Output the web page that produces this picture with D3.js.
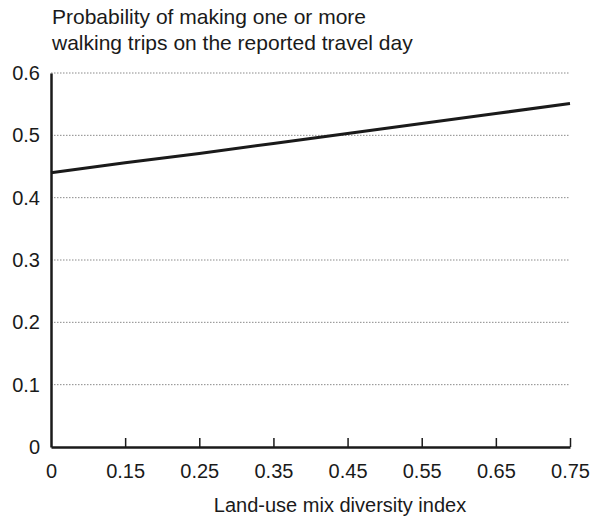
<!DOCTYPE html>
<html>
<head>
<meta charset="utf-8">
<script src="https://cdn.jsdelivr.net/npm/d3@7"></script>
<style>
  html, body { margin: 0; padding: 0; background: #fff; }
  svg { display: block; font-family: "Liberation Sans", Arial, Helvetica, sans-serif; }
</style>
</head>
<body>
<svg id="chart" width="590" height="518"></svg>
<script>
const categories = ["0", "0.15", "0.25", "0.35", "0.45", "0.55", "0.65", "0.75"];
const probability = [0.440, 0.456, 0.471, 0.487, 0.503, 0.519, 0.535, 0.551];
const yTicks = [0, 0.1, 0.2, 0.3, 0.4, 0.5, 0.6];
const titleLines = ["Probability of making one or more", "walking trips on the reported travel day"];
const xTitle = "Land-use mix diversity index";

(function () {
const svg = d3.select("#chart");
const mLeft = 51, mRight = 570, mTop = 73, mBottom = 447;

const x = d3.scalePoint().domain(categories).range([mLeft, mRight]);
const y = d3.scaleLinear().domain([0, 0.6]).range([mBottom, mTop]);

// gridlines
svg.append("g").selectAll("line").data(yTicks.filter(d => d > 0)).join("line")
  .attr("x1", mLeft).attr("x2", mRight)
  .attr("y1", d => y(d)).attr("y2", d => y(d))
  .attr("stroke", "#8a8a8a").attr("stroke-width", 1)
  .attr("stroke-dasharray", "1.5,1.5");

// y axis
const yAxis = svg.append("g").attr("transform", `translate(${mLeft},0)`)
  .call(d3.axisLeft(y).tickValues(yTicks).tickSize(0).tickPadding(11)
    .tickFormat(d => d === 0 ? "0" : d3.format(".1f")(d)));
yAxis.select(".domain").attr("stroke", "#1a1a1a").attr("stroke-width", 2.5);
yAxis.selectAll("text").attr("font-size", 20).attr("fill", "#1a1a1a")
  .attr("font-family", "'Liberation Sans', Arial, sans-serif");

// x axis
const xAxis = svg.append("g").attr("transform", `translate(0,${mBottom})`)
  .call(d3.axisBottom(x).tickSize(0).tickPadding(17));
xAxis.select(".domain").attr("stroke", "#1a1a1a").attr("stroke-width", 2.5);
xAxis.selectAll("text").attr("font-size", 20).attr("fill", "#1a1a1a")
  .attr("font-family", "'Liberation Sans', Arial, sans-serif");
xAxis.selectAll(".tick").filter(d => d !== categories[0])
  .append("line").attr("y1", 0).attr("y2", -9)
  .attr("stroke", "#1a1a1a").attr("stroke-width", 1.5);

// line
const line = d3.line().x((d, i) => x(categories[i])).y(d => y(d));
svg.append("path").datum(probability)
  .attr("d", line).attr("fill", "none")
  .attr("stroke", "#1a1a1a").attr("stroke-width", 3);

// titles
svg.append("g").selectAll("text").data(titleLines).join("text")
  .attr("x", 52).attr("y", (d, i) => 24 + i * 26)
  .attr("font-size", 21).attr("fill", "#1a1a1a")
  .text(d => d);

svg.append("text").attr("x", 340).attr("y", 512)
  .attr("text-anchor", "middle").attr("font-size", 20).attr("fill", "#1a1a1a")
  .text(xTitle);
})();
</script>
</body>
</html>
